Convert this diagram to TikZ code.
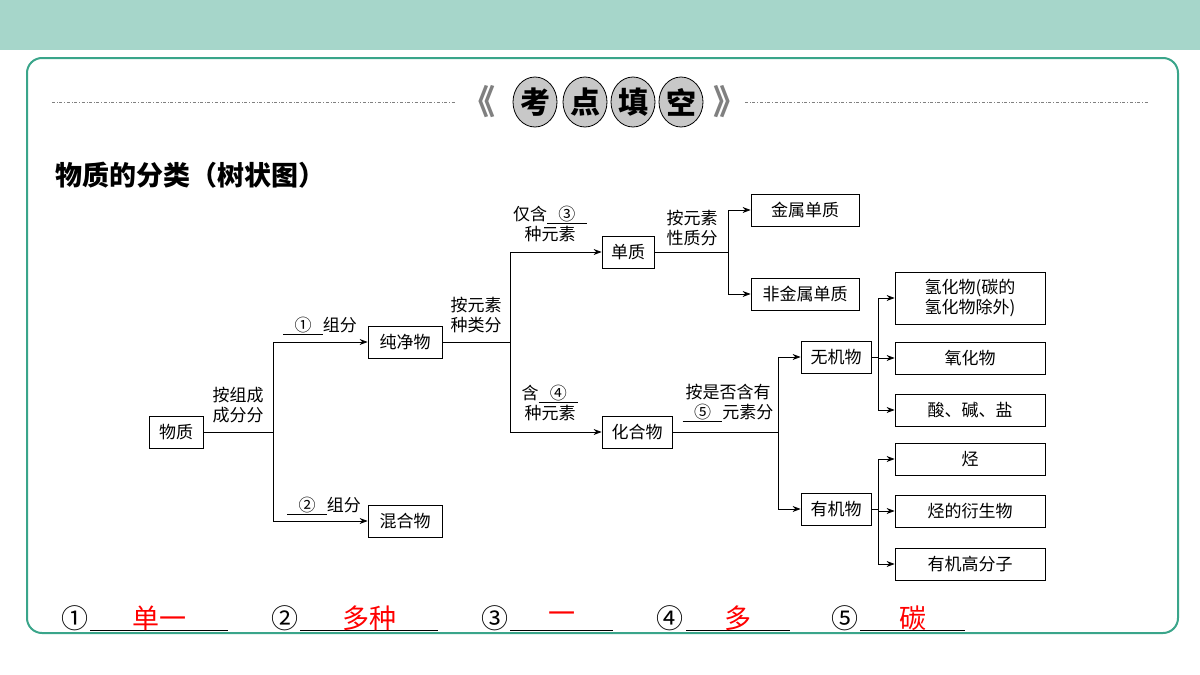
\documentclass[tikz,border=0pt]{standalone}
\usepackage{fontspec}
\setmainfont{Noto Sans CJK SC}
\usetikzlibrary{arrows.meta, positioning, shapes.geometric}
\definecolor{frame}{HTML}{3AA58A}
\definecolor{badge}{HTML}{C8C8C8}
\begin{document}
\begin{tikzpicture}[x=1pt, y=-1pt,
    box/.style={draw, thick, font=\fontsize{17}{20}\selectfont, minimum height=32pt, inner sep=3pt, align=center},
    lab/.style={font=\fontsize{17}{20}\selectfont, align=center, inner sep=1pt},
    arrow/.style={-{Stealth[length=8pt, width=6pt]}, thick},
    line/.style={thick},
    ans/.style={font=\fontsize{27}{30}\selectfont, inner sep=0pt},
    blank/.style={font=\fontsize{27}{30}\selectfont, text=red, inner sep=0pt}
  ]
  \useasboundingbox (0,0) rectangle (1200,675);
  % header band and frame
  \fill[frame!45!white] (0,0) rectangle (1200,50);
  \draw[frame, line width=2pt, rounded corners=15pt] (27,58) rectangle (1178,633);
  \draw[gray, dash dot] (52,102) -- (455,102);
  \draw[gray, dash dot] (745,102) -- (1148,102);
  \node[text=gray, font=\fontsize{34}{34}\selectfont\bfseries] (lq) at (478,102) {《};
  \node[text=gray, font=\fontsize{34}{34}\selectfont\bfseries] (rq) at (730,102) {》};
  \foreach \t/\x in {考/535, 点/585, 填/633, 空/681}
    \node[draw, thick, ellipse, fill=badge, minimum width=44pt, minimum height=50pt, inner sep=0pt,
      font=\fontsize{30}{30}\selectfont\bfseries] (b\x) at (\x,102) {\t};
  \node[anchor=west, font=\fontsize{27}{30}\selectfont\bfseries] (title) at (52,175) {物质的分类（树状图）};

  % tree
  \node[box, minimum width=54pt] (wz) at (176,432) {物质};
  \node[box, minimum width=74pt] (cjw) at (405,342) {纯净物};
  \node[box, minimum width=74pt] (hhw) at (405,521) {混合物};
  \node[box, minimum width=52pt] (dz) at (628,252) {单质};
  \node[box, minimum width=70pt] (hgw) at (637,432) {化合物};
  \node[box, minimum width=108pt] (jsdz) at (805,210) {金属单质};
  \node[box, minimum width=108pt] (fjsdz) at (805,294) {非金属单质};
  \node[box, minimum width=70pt] (wjw) at (836,357) {无机物};
  \node[box, minimum width=70pt] (yjw) at (836,509) {有机物};
  \node[box, minimum width=150pt, minimum height=52pt, inner sep=2pt] (qhw) at (970,298) {氢化物(碳的\\氢化物除外)};
  \node[box, minimum width=150pt] (yhw) at (970,358) {氧化物};
  \node[box, minimum width=150pt] (sjy) at (970,410) {酸、碱、盐};
  \node[box, minimum width=150pt] (t) at (970,459) {烃};
  \node[box, minimum width=150pt] (tdysw) at (970,511) {烃的衍生物};
  \node[box, minimum width=150pt] (yjgfz) at (970,564) {有机高分子};

  \coordinate (s1) at (273,432);
  \coordinate (s2) at (510,342);
  \coordinate (s3) at (728,252);
  \coordinate (s4) at (778,432);
  \coordinate (s5) at (878,357);
  \coordinate (s6) at (878,509);

  \draw[line] (wz) -- (s1);
  \draw[arrow] (s1) |- (cjw);
  \draw[arrow] (s1) |- (hhw);
  \draw[line] (cjw) -- (s2);
  \draw[arrow] (s2) |- (dz);
  \draw[arrow] (s2) |- (hgw);
  \draw[line] (dz) -- (s3);
  \draw[arrow] (s3) |- (jsdz);
  \draw[arrow] (s3) |- (fjsdz);
  \draw[line] (hgw) -- (s4);
  \draw[arrow] (s4) |- (wjw);
  \draw[arrow] (s4) |- (yjw);
  \draw[line] (wjw) -- (s5);
  \draw[arrow] (s5) |- (qhw);
  \draw[arrow] (s5) |- (yhw);
  \draw[arrow] (s5) |- (sjy);
  \draw[line] (yjw) -- (s6);
  \draw[arrow] (s6) |- (t);
  \draw[arrow] (s6) |- (tdysw);
  \draw[arrow] (s6) |- (yjgfz);

  \node[lab] (l1) at (238,405) {按组成\\成分分};
  \node[lab] (l2) at (320,326) {\underline{\ \ \ ①\ \ \ }组分};
  \node[lab] (l3) at (324,506) {\underline{\ \ \ ②\ \ \ }组分};
  \node[lab] (l4) at (476,315) {按元素\\种类分};
  \node[lab] (l5) at (550,224) {仅含\underline{\ \ \ ③\ \ \ }\\种元素};
  \node[lab] (l6) at (550,403) {含\underline{\ \ \ ④\ \ \ }\\种元素};
  \node[lab] (l7) at (692,228) {按元素\\性质分};
  \node[lab] (l8) at (728,403) {按是否含有\\\underline{\ \ \ ⑤\ \ \ }元素分};

  % answers
  \foreach \n/\x/\a/\b/\w in {①/75/90/228/单一, ②/285/300/438/多种, ③/495/510/613/一, ④/670/686/790/多, ⑤/845/860/965/碳}{
    \node[ans] (n\x) at (\x,618) {\n};
    \coordinate (ua\x) at (\a,630);
    \coordinate (ub\x) at (\b,630);
    \draw[thick] (ua\x) -- (ub\x);
    \node[blank] (w\x) at ({(\a+\b)/2},618) {\w};
  }
\end{tikzpicture}
\end{document}
